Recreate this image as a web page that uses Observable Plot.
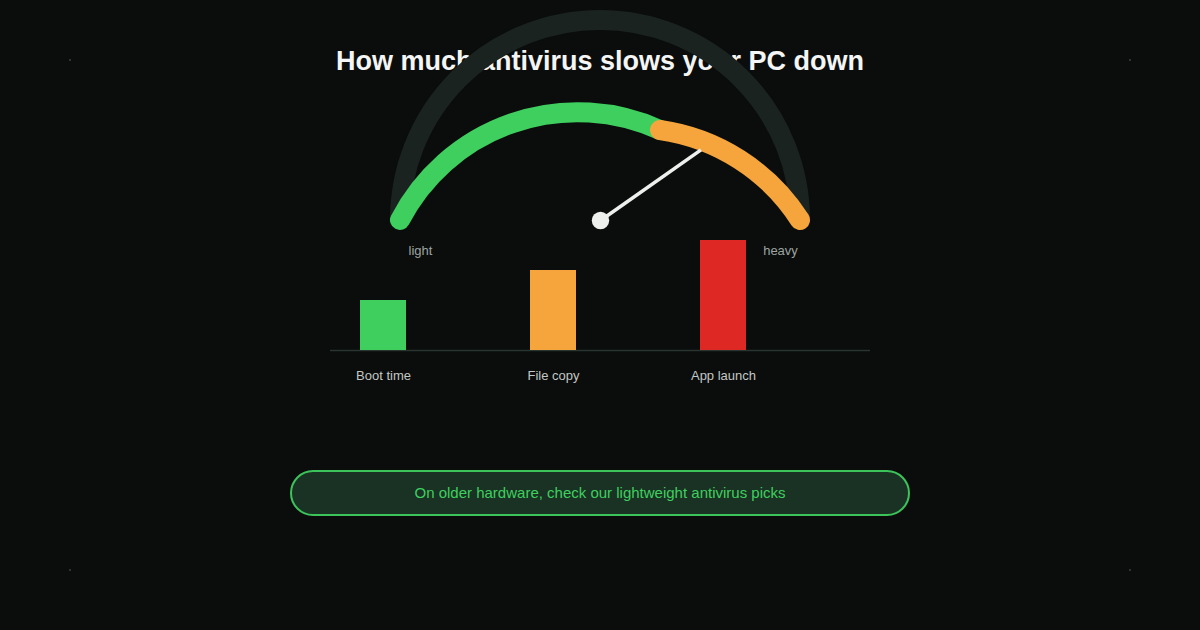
<!DOCTYPE html>
<html>
<head>
<meta charset="utf-8">
<script src="https://cdn.jsdelivr.net/npm/d3@7"></script>
<script src="https://cdn.jsdelivr.net/npm/@observablehq/plot@0.6"></script>
<style>
  html, body { margin: 0; padding: 0; background: #0a0d0c; }
  #stage { position: relative; width: 1200px; height: 630px; overflow: hidden; background: #0a0d0c;
           font-family: "Liberation Sans", Arial, sans-serif; }
  #title { position: absolute; left: 0; top: 45px; width: 1200px; height: 32px; line-height: 32px;
           text-align: center; color: #f4f5f4; font-size: 27px; font-weight: 700; z-index: 1; }
  #gauge { position: absolute; left: 0; top: 0; z-index: 2; }
  #bars { position: absolute; left: 330px; top: 230px; z-index: 3; }
  #cta { position: absolute; left: 290px; top: 470px; width: 620px; height: 46px; box-sizing: border-box;
         border: 2px solid #3cc35a; border-radius: 23px; background: #193223; color: #3fcf5f;
         font-size: 15px; line-height: 42px; text-align: center; z-index: 3; }
  .corner { position: absolute; width: 2px; height: 2px; background: #2c3331; z-index: 1; }
</style>
</head>
<body>
<div id="stage">
  <div id="title"></div>
  <div id="gauge"></div>
  <div id="bars"></div>
  <div id="cta"></div>
  <span class="corner" style="left:69px;top:59px"></span>
  <span class="corner" style="left:1129px;top:59px"></span>
  <span class="corner" style="left:69px;top:569px"></span>
  <span class="corner" style="left:1129px;top:569px"></span>
</div>
<script>
// ---- data ----
const titleText = "How much antivirus slows your PC down";
const ctaText = "On older hardware, check our lightweight antivirus picks";
const tasks = ["Boot time", "File copy", "App launch"];
const impact = [5, 8, 11];
const barColors = ["#3ecf5f", "#f6a53c", "#dd2823"];
const gaugeLabels = ["light", "heavy"];
const zoneColors = ["#3ecf5f", "#f6a53c"];
const needleValue = 0.805;   // 0 = light, 1 = heavy

document.getElementById("title").textContent = titleText;
document.getElementById("cta").textContent = ctaText;

const font = "'Liberation Sans', Arial, sans-serif";

// ---- gauge ----
const needleLen = 0.614;
const ang = Math.PI * (1 - needleValue);
const needle = [{x1: 0, y1: 0, x2: needleLen * Math.cos(ang), y2: needleLen * Math.sin(ang)}];
const hub = [{x: 0, y: 0}];
const labelRows = gaugeLabels.map((t, i) => ({t, x: i ? 0.9 : -0.9, y: -0.15}));

function gaugeArcs(index, scales) {
  const {x, y} = scales;
  const r = x(1) - x(0);
  const g = d3.create("svg:g").attr("fill", "none");
  const arc = (p, q, color, cap) =>
    g.append("path")
      .attr("d", `M${x(p[0])},${y(p[1])}A${r},${r} 0 0 1 ${x(q[0])},${y(q[1])}`)
      .attr("stroke", color).attr("stroke-width", 20).attr("stroke-linecap", cap);
  const split = [0.3, 0.45];
  arc([-1, 0], [1, 0], "#1a2320", "butt");
  arc([-1, 0], split, zoneColors[0], "round");
  arc(split, [1, 0], zoneColors[1], "round");
  return g.node();
}

const gauge = Plot.plot({
  width: 1200, height: 630, margin: 0,
  x: {domain: [-3, 3], range: [0, 1200], axis: null},
  y: {domain: [-2.05, 1.1], range: [630, 0], axis: null},
  style: {background: "transparent", fontFamily: font},
  marks: [
    gaugeArcs,
    Plot.link(needle, {x1: "x1", y1: "y1", x2: "x2", y2: "y2", stroke: "#eef0ee", strokeWidth: 3.5}),
    Plot.dot(hub, {x: "x", y: "y", r: 8.7, fill: "#eef0ee", stroke: "none"}),
    Plot.text(labelRows, {x: "x", y: "y", text: "t", fill: "#9ea4a1", fontSize: 13})
  ]
});
document.getElementById("gauge").append(gauge);

// ---- bars ----
const rows = tasks.map((task, i) => ({task, impact: impact[i], color: barColors[i]}));
const bars = Plot.plot({
  width: 540, height: 170, margin: 0,
  x: {type: "band", domain: tasks, range: [30, 416], paddingInner: 1 - 46 / 170, paddingOuter: 0, round: false, axis: null},
  y: {domain: [0, 11], range: [120, 10], axis: null},
  color: {type: "identity"},
  style: {background: "transparent", fontFamily: font, overflow: "visible"},
  marks: [
    Plot.ruleY([0], {stroke: "#29352f", strokeWidth: 1.5}),
    Plot.barY(rows, {x: "task", y: "impact", fill: "color", inset: 0}),
    Plot.text(rows, {x: "task", y: () => 0, dy: 25, text: "task", fill: "#c3c7c5", fontSize: 13})
  ]
});
document.getElementById("bars").append(bars);
</script>
</body>
</html>
